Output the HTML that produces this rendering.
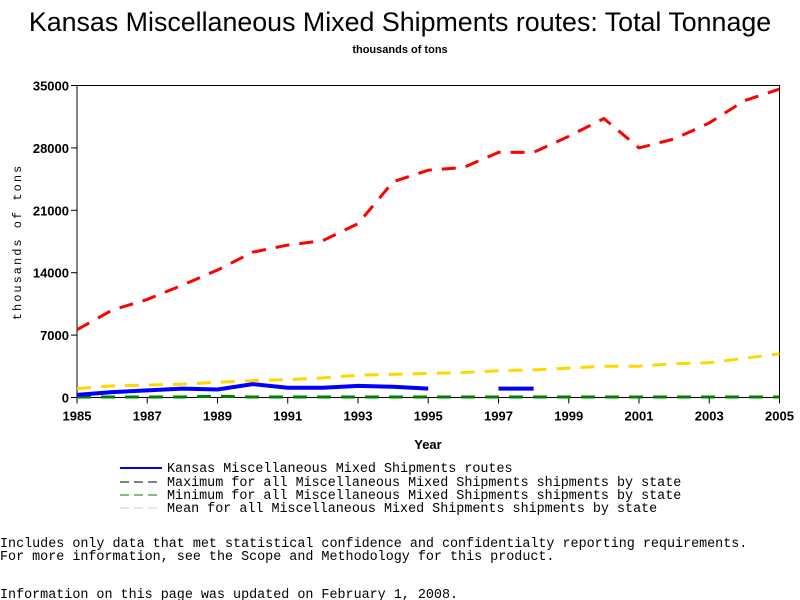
<!DOCTYPE html>
<html><head><meta charset="utf-8"><style>
body{margin:0;background:#fff;width:800px;height:600px;overflow:hidden}
svg{display:block}
text{font-family:"Liberation Sans",sans-serif}
.m{font-family:"Liberation Mono",monospace;font-size:13.4px}
</style></head><body>
<svg id="c" width="800" height="600">
<text x="400" y="31" text-anchor="middle" font-size="26.8">Kansas Miscellaneous Mixed Shipments routes: Total Tonnage</text>
<text x="400" y="53" text-anchor="middle" font-size="11" font-weight="bold">thousands of tons</text>
<text transform="translate(21,242) rotate(-90)" text-anchor="middle" class="m" style="font-size:12px" letter-spacing="2">thousands of tons</text>
<text x="428" y="449" text-anchor="middle" font-size="13" font-weight="bold">Year</text>
<g id="axes"></g><g id="series"></g>
<g>
<line x1="120" y1="468" x2="162" y2="468" stroke="#0000ff" stroke-width="2"/><text x="167" y="472" class="m">Kansas Miscellaneous Mixed Shipments routes</text>
<line x1="120" y1="482" x2="162" y2="482" stroke="#000" stroke-dasharray="9,5"/><text x="167" y="486" class="m">Maximum for all Miscellaneous Mixed Shipments shipments by state</text>
<line x1="120" y1="495" x2="162" y2="495" stroke="#008000" stroke-dasharray="9,5"/><text x="167" y="499" class="m">Minimum for all Miscellaneous Mixed Shipments shipments by state</text>
<line x1="120" y1="508" x2="162" y2="508" stroke="#ccc" stroke-dasharray="9,5"/><text x="167" y="512" class="m">Mean for all Miscellaneous Mixed Shipments shipments by state</text>
</g>
<text x="0" y="547" class="m">Includes only data that met statistical confidence and confidentialty reporting requirements.</text>
<text x="0" y="560" class="m">For more information, see the Scope and Methodology for this product.</text>
<text x="0" y="598" class="m">Information on this page was updated on February 1, 2008.</text>
</svg>
<script>
const years=[1985,1986,1987,1988,1989,1990,1991,1992,1993,1994,1995,1996,1997,1998,1999,2000,2001,2002,2003,2004,2005];
const maxVals=[7600,9800,11000,12600,14300,16300,17100,17600,19500,24200,25500,25800,27500,27500,29300,31300,28000,29000,30800,33300,34600];
const meanVals=[1000,1300,1400,1500,1700,1900,2000,2200,2500,2600,2700,2800,3000,3100,3300,3500,3500,3800,3900,4400,4900];
const minVals=[50,50,50,50,150,50,50,50,50,50,50,50,50,50,50,50,50,50,50,50,50];
const kansasVals=[300,600,800,1000,900,1500,1100,1100,1300,1200,1000,null,1000,1000,null,null,null,null,null,null,null];
const yTicks=[0,7000,14000,21000,28000,35000];
const xTicks=[1985,1987,1989,1991,1993,1995,1997,1999,2001,2003,2005];
const L=77,R=779.5,T=85.5,B=397.5;
const xs=y=>L+(y-1985)/20*(R-L), ys=v=>B-v/35000*(B-T);
const NS="http://www.w3.org/2000/svg";
function mk(p,t,a){const e=document.createElementNS(NS,t);for(const k in a)e.setAttribute(k,a[k]);p.appendChild(e);return e;}
const ax=document.getElementById('axes');
const frame=mk(ax,'rect',{x:L,y:T,width:R-L,height:B-T,fill:'none',stroke:'#000','stroke-width':1});


yTicks.forEach(v=>{
  mk(ax,'line',{x1:L-6,x2:L,y1:ys(v),y2:ys(v),stroke:'#000'});
  const t=mk(ax,'text',{x:L-8,y:ys(v)+5,'text-anchor':'end','font-size':13,'font-weight':'bold'});t.textContent=v;
  
  
});
xTicks.forEach(v=>{
  mk(ax,'line',{x1:xs(v),x2:xs(v),y1:B,y2:B+6,stroke:'#000'});
  const t=mk(ax,'text',{x:xs(v),y:B+23,'text-anchor':'middle','font-size':13,'font-weight':'bold'});t.textContent=v;
  
  
});
const sg=document.getElementById('series');
function line(vals,color,dash,name){
  let d='',pen=false;
  vals.forEach((v,i)=>{if(v===null){pen=false;return;}d+=(pen?'L':'M')+xs(years[i])+','+ys(v);pen=true;});
  const p=mk(sg,'path',{d:d,fill:'none',stroke:color,'stroke-width':dash?3:4,'stroke-dasharray':dash||'none'});
  
  
}
line(minVals,'#008000','14,10','minimum-line');
line(meanVals,'#ffd700','14,10','mean-line');
line(kansasVals,'#0000ff',null,'kansas-line');
line(maxVals,'#ff0000','14,10','maximum-line');
</script>
</body></html>
